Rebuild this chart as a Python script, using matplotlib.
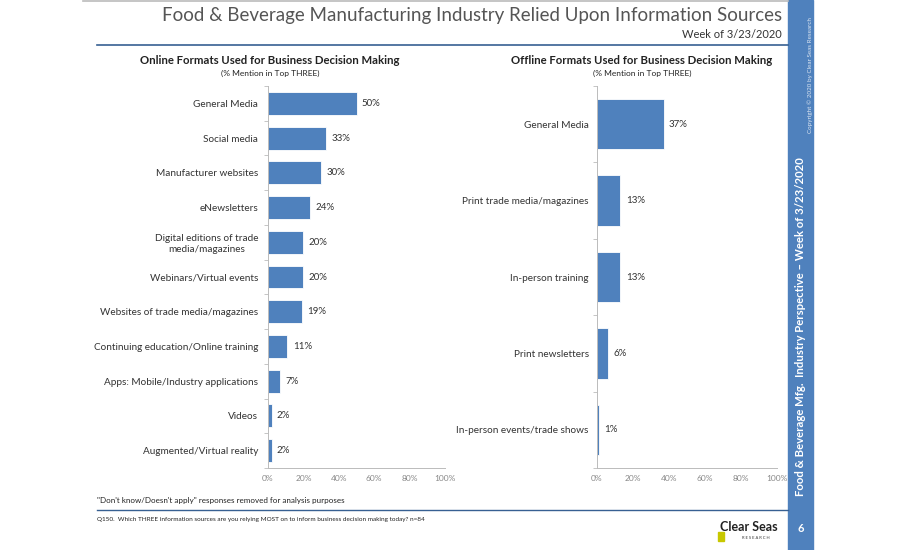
import matplotlib.pyplot as plt
from matplotlib.lines import Line2D
from matplotlib.patches import Rectangle

plt.rcParams['font.family'] = ['Lato', 'DejaVu Sans']

# online formats (left panel)
online_labels = ['General Media', 'Social media', 'Manufacturer websites', 'eNewsletters',
                 'Digital editions of trade\nmedia/magazines', 'Webinars/Virtual events',
                 'Websites of trade media/magazines', 'Continuing education/Online training',
                 'Apps: Mobile/Industry applications', 'Videos', 'Augmented/Virtual reality']
online_values = [50, 33, 30, 24, 20, 20, 19, 11, 7, 2, 2]

# offline formats (right panel)
offline_labels = ['General Media', 'Print trade media/magazines', 'In-person training',
                  'Print newsletters', 'In-person events/trade shows']
offline_values = [37, 13, 13, 6, 1]

x_ticks = [0, 20, 40, 60, 80, 100]
x_ticklabels = ['0%', '20%', '40%', '60%', '80%', '100%']

BLUE = '#4F81BD'
W, H = 900, 550


def fx(x):
    return x / W


def fy(y):
    return 1 - y / H


fig = plt.figure(figsize=(9, 5.5), dpi=100)


def draw_panel(rect, labels, values, label_pad):
    ax = fig.add_axes(rect)
    n = len(labels)
    pos = list(range(n))
    ax.barh(pos, values, height=0.66, color=BLUE, edgecolor='white', linewidth=0.6)
    ax.set_ylim(n - 0.5, -0.5)
    ax.set_xlim(0, 100)
    ax.set_yticks(pos)
    ax.set_yticklabels(labels, fontsize=7.2, color='#333333', ha='right', multialignment='center')
    ax.tick_params(axis='y', length=0, pad=label_pad)
    # tick marks between categories
    ax.set_yticks([i - 0.5 for i in range(n + 1)], minor=True)
    ax.tick_params(axis='y', which='minor', length=3, color='#BBBBBB', width=0.6)
    ax.set_xticks(x_ticks)
    ax.set_xticklabels(x_ticklabels, fontsize=6, color='#888888')
    ax.tick_params(axis='x', length=0, pad=5)
    for s in ['top', 'right']:
        ax.spines[s].set_visible(False)
    for s in ['left', 'bottom']:
        ax.spines[s].set_color('#BBBBBB')
        ax.spines[s].set_linewidth(0.7)
    for i, v in enumerate(values):
        ax.text(v + 3, i, f'{v}%', va='center', ha='left', fontsize=7, color='#333333')
    return ax


ax1 = draw_panel([fx(268), fy(468), fx(445) - fx(268), fy(86) - fy(468)],
                 online_labels, online_values, 7)
ax2 = draw_panel([fx(597), fy(468), fx(777) - fx(597), fy(86) - fy(468)],
                 offline_labels, offline_values, 6)

# header
fig.add_artist(Line2D([fx(83), fx(788)], [fy(1), fy(1)], color='#BBBBBB', lw=1.2))
fig.text(fx(782), fy(15), 'Food & Beverage Manufacturing Industry Relied Upon Information Sources',
         ha='right', va='center', fontsize=13.5, color='#555555')
fig.text(fx(782), fy(35), 'Week of 3/23/2020', ha='right', va='center', fontsize=8, color='#333333')
fig.add_artist(Line2D([fx(97), fx(788)], [fy(45), fy(45)], color='#376092', lw=1.2))

# panel titles
fig.text(fx(270), fy(60), 'Online Formats Used for Business Decision Making',
         ha='center', va='center', fontsize=8.2, fontweight='bold', color='#222222')
fig.text(fx(270), fy(73), '(% Mention in Top THREE)',
         ha='center', va='center', fontsize=6, color='#222222')
fig.text(fx(642), fy(60), 'Offline Formats Used for Business Decision Making',
         ha='center', va='center', fontsize=8.2, fontweight='bold', color='#222222')
fig.text(fx(642), fy(73), '(% Mention in Top THREE)',
         ha='center', va='center', fontsize=6, color='#222222')

# footer
fig.text(fx(97), fy(500), '"Don\'t know/Doesn\'t apply" responses removed for analysis purposes',
         ha='left', va='center', fontsize=5.8, color='#222222')
fig.add_artist(Line2D([fx(97), fx(788)], [fy(510), fy(510)], color='#376092', lw=1.0))
fig.text(fx(97), fy(519),
         'Q150.  Which THREE information sources are you relying MOST on to inform business decision making today? n=84',
         ha='left', va='center', fontsize=4.6, color='#222222')

# logo
fig.add_artist(Rectangle((fx(718), fy(541)), fx(6), fy(532) - fy(541), color='#C8C800'))
fig.text(fx(720), fy(527), 'Clear Seas', ha='left', va='center', fontsize=9,
         fontweight='bold', color='#222222')
fig.text(fx(742), fy(538), 'R E S E A R C H', ha='left', va='center', fontsize=3,
         color='#333333')

# sidebar
fig.add_artist(Rectangle((fx(788), 0), fx(813) - fx(788), 1, color=BLUE))
fig.text(fx(801), fy(327), 'Food & Beverage Mfg.  Industry Perspective \u2013 Week of 3/23/2020',
         rotation=90, ha='center', va='center', fontsize=8.2, fontweight='bold', color='white')
fig.text(fx(810), fy(75), 'Copyright \u00a9 2020 by Clear Seas Research',
         rotation=90, ha='center', va='center', fontsize=4.5, color='#DDE6F2')
fig.text(fx(801), fy(528), '6', ha='center', va='center', fontsize=8,
         fontweight='bold', color='white')

fig.savefig('out.png', dpi=100)
